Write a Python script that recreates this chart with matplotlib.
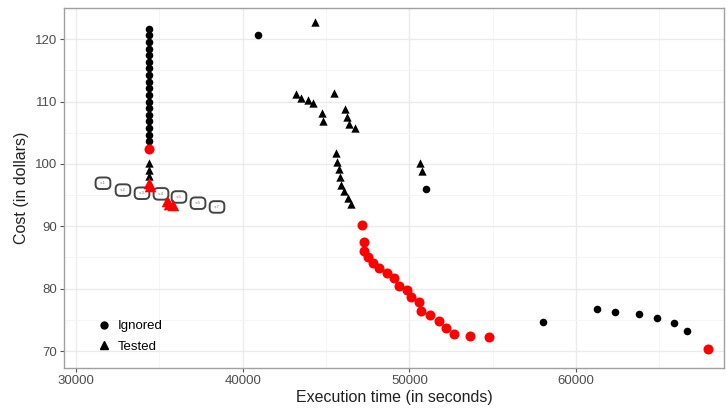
import matplotlib.pyplot as plt
from matplotlib.lines import Line2D

plt.rcParams['font.family'] = ['Liberation Sans', 'DejaVu Sans']

# ignored configurations (circles)
IGN_X = [34380] * 18 + [40920, 51000, 58000, 61280, 62360, 63780, 64860, 65900, 66660]
IGN_Y = [121.7, 120.6, 119.6, 118.5, 117.4, 116.4, 115.3, 114.2, 113.2, 112.1,
         111.0, 110.0, 108.9, 107.8, 106.8, 105.7, 104.6, 103.6,
         120.6, 96.0, 74.7, 76.8, 76.25, 76.0, 75.3, 74.55, 73.15]

# ignored, on the front (red circles)
IGN_FRONT_X = [34380, 47140, 47260, 47300, 47500, 47840, 48180, 48680, 49080, 49380,
               49880, 50080, 50580, 50720, 51260, 51760, 52220, 52700, 53620, 54800, 67940]
IGN_FRONT_Y = [102.4, 90.2, 87.5, 86.1, 85.0, 84.05, 83.25, 82.55, 81.7, 80.5,
               79.8, 78.6, 77.85, 76.45, 75.7, 74.75, 73.7, 72.7, 72.4, 72.25, 70.4]

# tested configurations (triangles)
TST_X = [34380, 34380, 34380, 44340, 43200, 43500, 43940, 44240, 44780, 44800,
         45500, 46140, 46260, 46380, 46760, 45620, 45660, 45780, 45860, 45920,
         46100, 46340, 46500, 50620, 50740]
TST_Y = [100.2, 99.1, 98.1, 122.7, 111.2, 110.6, 110.3, 109.8, 108.1, 106.9,
         111.3, 108.8, 107.5, 106.4, 105.7, 101.7, 100.3, 99.2, 97.9, 96.7,
         95.6, 94.6, 93.5, 100.2, 98.8]

# tested, on the front (red triangles)
TST_FRONT_X = [34380, 34420, 35450, 35600, 35850]
TST_FRONT_Y = [97.0, 96.4, 94.0, 93.6, 93.4]

# labelled boxes
LAB_X = [31620, 32820, 33960, 35100, 36180, 37320, 38460]
LAB_Y = [96.9, 95.8, 95.3, 95.2, 94.7, 93.7, 93.1]
LAB_TXT = ['s1', 's2', 's3', 's4', 's5', 's6', 's7']

fig = plt.figure(figsize=(7.27, 4.08), dpi=100)
ax = fig.add_axes([0.088, 0.098, 0.908, 0.882])

ax.set_xlim(29280, 68880)
ax.set_ylim(67.28, 124.97)
ax.set_xticks([30000, 40000, 50000, 60000])
ax.set_yticks([70, 80, 90, 100, 110, 120])
ax.set_xticks([35000, 45000, 55000, 65000], minor=True)
ax.set_yticks([75, 85, 95, 105, 115], minor=True)
ax.grid(which='major', color='#ebebeb', lw=1.0)
ax.grid(which='minor', color='#f4f4f4', lw=0.6)
ax.set_axisbelow(True)
ax.tick_params(which='minor', length=0)
ax.tick_params(which='major', length=3, color='#555555', width=0.8,
               labelsize=9.5, labelcolor='#4d4d4d', pad=2)
for s in ax.spines.values():
    s.set_color('#a0a0a0')
    s.set_linewidth(1.0)

for x, y, t in zip(LAB_X, LAB_Y, LAB_TXT):
    ax.text(x, y, ' ' + t + ' ', fontsize=3.2, color='#777777', ha='center', va='center',
            bbox=dict(boxstyle='round,pad=0.85,rounding_size=1.0', fc='white',
                      ec='#444444', lw=1.4), zorder=3)

ax.scatter(IGN_X, IGN_Y, marker='o', s=30, color='black', lw=0, zorder=4)
ax.scatter(TST_X, TST_Y, marker='^', s=36, color='black', lw=0, zorder=4)
ax.scatter(IGN_FRONT_X, IGN_FRONT_Y, marker='o', s=52, color='#ff0000', lw=0, zorder=5)
ax.scatter(TST_FRONT_X, TST_FRONT_Y, marker='^', s=70, color='#ff0000', lw=0, zorder=5)

ax.set_xlabel('Execution time (in seconds)', fontsize=11.5, color='#222222', labelpad=2)
ax.set_ylabel('Cost (in dollars)', fontsize=11.5, color='#222222', labelpad=4)

handles = [Line2D([], [], marker='o', ls='', color='black', ms=5),
           Line2D([], [], marker='^', ls='', color='black', ms=6)]
ax.legend(handles, ['Ignored', 'Tested'], loc='lower left', bbox_to_anchor=(0.03, 0.01),
          frameon=False, fontsize=9.5, handletextpad=0.5, labelspacing=0.6,
          handlelength=1.2)

fig.savefig('out.png', dpi=100)
